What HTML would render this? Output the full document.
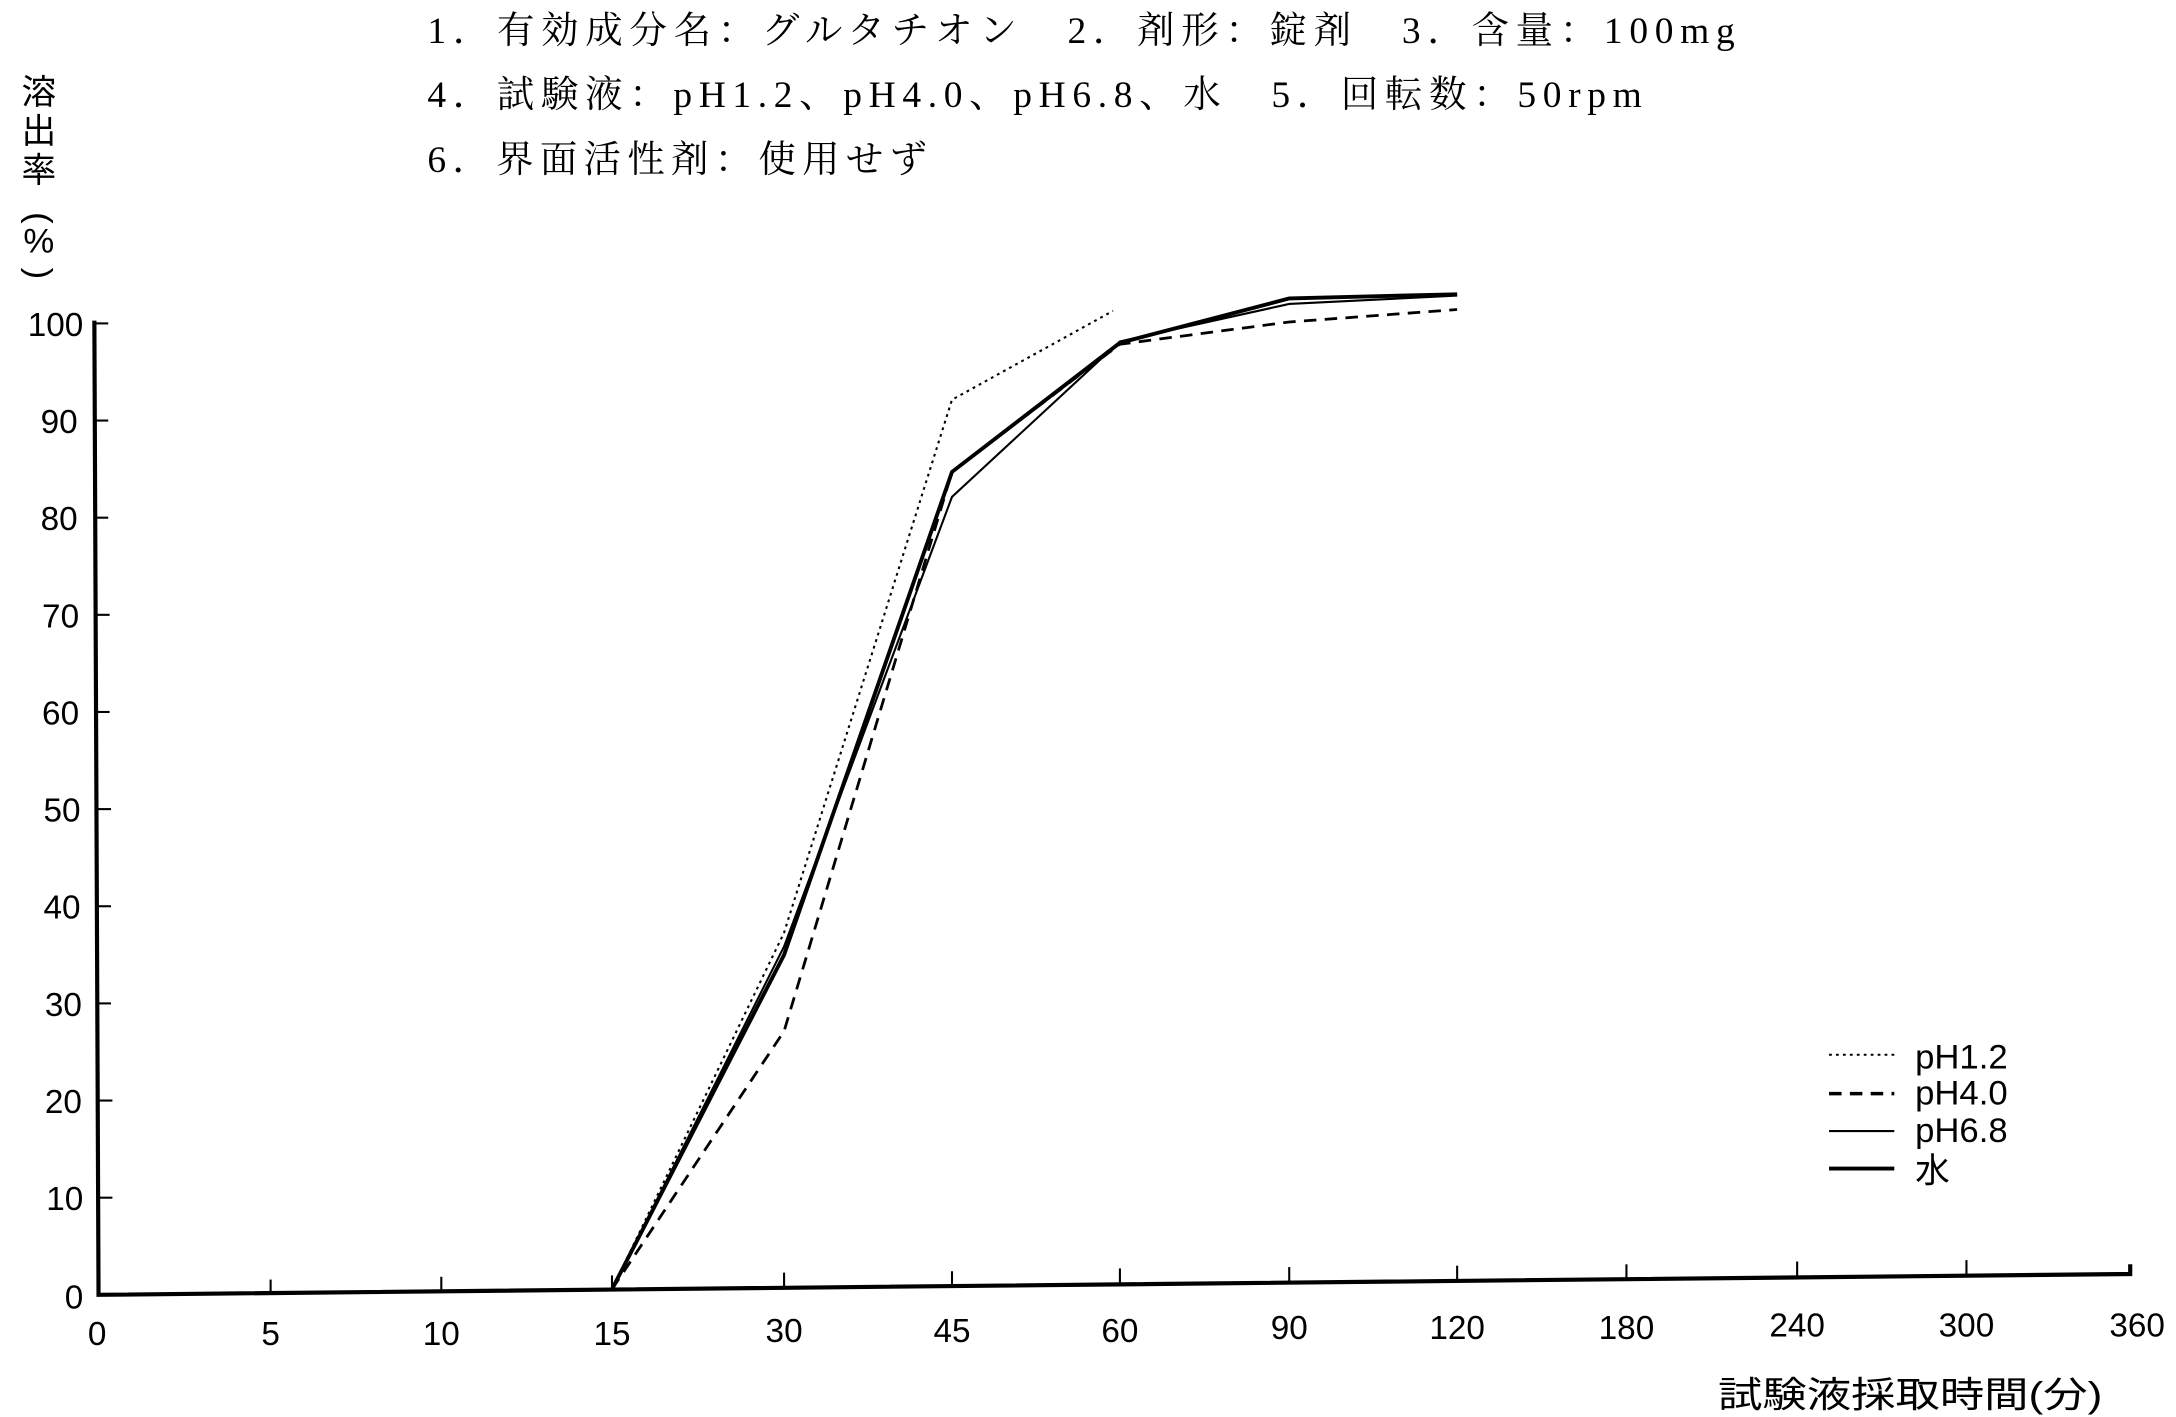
<!DOCTYPE html>
<html><head><meta charset="utf-8"><style>
html,body{margin:0;padding:0;background:#fff;}
svg{display:block}
text{font-family:"Liberation Sans","Noto Sans CJK JP",sans-serif;fill:#000}
.s{font-family:"Liberation Serif","Noto Serif CJK SC","Noto Sans CJK JP",serif}
</style></head><body>
<svg width="2176" height="1417" viewBox="0 0 1568 1021" xmlns="http://www.w3.org/2000/svg">
<g class="s" font-size="27">
<text x="308" y="31" class="s" textLength="942" lengthAdjust="spacing">1．有効成分名：グルタチオン　2．剤形：錠剤　3．含量：100mg</text>
<text x="308" y="77" class="s" textLength="875" lengthAdjust="spacing">4．試験液：pH1.2、pH4.0、pH6.8、水　5．回転数：50rpm</text>
<text x="308" y="124" class="s" textLength="360" lengthAdjust="spacing">6．界面活性剤：使用せず</text>
</g>
<g font-size="25" text-anchor="middle">
<text x="28" y="75">溶</text><text x="28" y="103">出</text><text x="28" y="131">率</text>
<text x="28" y="165" transform="rotate(90 28 157)">(</text>
<text x="28" y="182">%</text>
<text x="28" y="205" transform="rotate(90 28 197)">)</text>
</g>
<polyline points="68,231 71,933 1535,918 1535,911" fill="none" stroke="#000" stroke-width="3"/>
<g stroke="#000" stroke-width="1.5">
<line x1="68" y1="233" x2="78" y2="233"/><line x1="69" y1="303" x2="78" y2="303"/>
<line x1="69" y1="373" x2="78" y2="373"/><line x1="69" y1="443" x2="79" y2="443"/>
<line x1="69" y1="513" x2="79" y2="513"/><line x1="70" y1="583" x2="80" y2="583"/>
<line x1="70" y1="653" x2="80" y2="653"/><line x1="70" y1="723" x2="80" y2="723"/>
<line x1="70" y1="793" x2="81" y2="793"/><line x1="71" y1="863" x2="81" y2="863"/>
<line x1="195" y1="932" x2="195" y2="922"/><line x1="318" y1="930" x2="318" y2="920"/>
<line x1="441" y1="929" x2="441" y2="919"/><line x1="565" y1="928" x2="565" y2="917"/>
<line x1="686" y1="927" x2="686" y2="916"/><line x1="807" y1="925" x2="807" y2="914"/>
<line x1="929" y1="924" x2="929" y2="913"/><line x1="1050" y1="923" x2="1050" y2="912"/>
<line x1="1172" y1="922" x2="1172" y2="911"/><line x1="1295" y1="920" x2="1295" y2="909"/>
<line x1="1417" y1="919" x2="1417" y2="908"/>
</g>
<g font-size="24" text-anchor="end">
<text x="60" y="242">100</text><text x="56" y="312">90</text><text x="56" y="382">80</text>
<text x="57" y="452">70</text><text x="57" y="522">60</text><text x="58" y="592">50</text>
<text x="58" y="662">40</text><text x="59" y="732">30</text><text x="59" y="802">20</text>
<text x="60" y="872">10</text><text x="60" y="943">0</text>
</g>
<g font-size="24" text-anchor="middle">
<text x="70" y="969">0</text><text x="195" y="969">5</text><text x="318" y="969">10</text>
<text x="441" y="969">15</text><text x="565" y="967">30</text><text x="686" y="967">45</text>
<text x="807" y="967">60</text><text x="929" y="965">90</text><text x="1050" y="965">120</text>
<text x="1172" y="965">180</text><text x="1295" y="963">240</text><text x="1417" y="963">300</text>
<text x="1540" y="963">360</text>
</g>
<text x="1238" y="1014" font-size="26" textLength="277" lengthAdjust="spacingAndGlyphs">試験液採取時間(分)</text>
<polyline points="441,929 565,672 686,288 802,224" fill="none" stroke="#000" stroke-width="1.5" stroke-dasharray="2,3"/>
<polyline points="441,929 565,743 686,340 807,248 929,232 1050,223" fill="none" stroke="#000" stroke-width="2" stroke-dasharray="9,6"/>
<polyline points="441,929 565,682 686,358 807,246 929,219 1050,213" fill="none" stroke="#000" stroke-width="1.5"/>
<polyline points="441,929 565,688 686,340 807,247 929,215 1050,212" fill="none" stroke="#000" stroke-width="2.8"/>
<line x1="1318" y1="760" x2="1365" y2="760" stroke="#000" stroke-width="1.5" stroke-dasharray="2,3"/>
<line x1="1318" y1="788" x2="1365" y2="788" stroke="#000" stroke-width="2.5" stroke-dasharray="9,6"/>
<line x1="1318" y1="815" x2="1365" y2="815" stroke="#000" stroke-width="1.5"/>
<line x1="1318" y1="842" x2="1365" y2="842" stroke="#000" stroke-width="2.8"/>
<g font-size="25">
<text x="1380" y="770">pH1.2</text><text x="1380" y="796">pH4.0</text>
<text x="1380" y="823">pH6.8</text><text x="1380" y="852">水</text>
</g>
</svg>
</body></html>
